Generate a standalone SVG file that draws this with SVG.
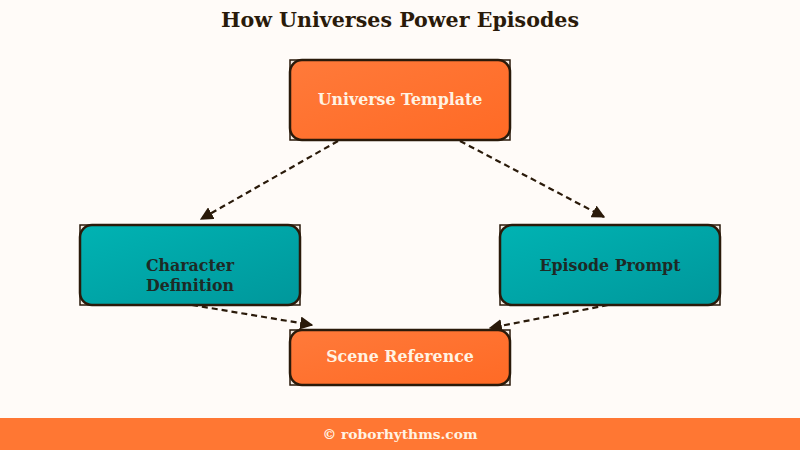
<svg xmlns="http://www.w3.org/2000/svg" width="800" height="450" viewBox="0 0 800 450">
<style>
.frame{fill:#f5ece4;stroke:#2a1a0a;stroke-width:1.5}
.box{stroke:#2a1a0a;stroke-width:2.5}
.org{fill:url(#go)}
.teal{fill:url(#gt)}
.t{font-family:"DejaVu Serif","Liberation Serif",serif;font-weight:bold;font-size:15.8px;text-anchor:middle}
.tw{fill:#fff3e3}
.td{fill:#1e2a26}
.conn{stroke:#2a1a0a;stroke-width:2.2;stroke-dasharray:6,4;fill:none}
</style>
<defs>
<linearGradient id="go" x1="0" y1="0" x2="1" y2="1"><stop offset="0" stop-color="#ff7a3a"/><stop offset="1" stop-color="#ff6a25"/></linearGradient>
<linearGradient id="gt" x1="0" y1="0" x2="1" y2="1"><stop offset="0" stop-color="#00b3b3"/><stop offset="1" stop-color="#00979b"/></linearGradient>
<marker id="ah" viewBox="0 0 10 10" refX="9" refY="5" markerWidth="6" markerHeight="6" orient="auto" markerUnits="strokeWidth"><path d="M0,0 L10,5 L0,10 z" fill="#2a1a0a"/></marker>
</defs>
<rect width="800" height="450" fill="#fffbf8"/>
<text x="400" y="27" font-family="DejaVu Serif,serif" font-weight="bold" font-size="20.6" fill="#2a1a0a" text-anchor="middle">How Universes Power Episodes</text>
<g id="connectors">
<line class="conn" x1="338" y1="141" x2="201" y2="219" marker-end="url(#ah)"/>
<line class="conn" x1="460" y1="141" x2="604" y2="217" marker-end="url(#ah)"/>
<line class="conn" x1="192" y1="305" x2="312" y2="325" marker-end="url(#ah)"/>
<line class="conn" x1="608" y1="305" x2="490" y2="328" marker-end="url(#ah)"/>
</g>
<g id="universe-template">
<rect class="frame" x="290" y="60" width="220" height="80"/>
<rect class="box org" x="290" y="60" width="220" height="80" rx="12"/>
<text class="t tw" x="400" y="105">Universe Template</text>
</g>
<g id="character-definition">
<rect class="frame" x="80" y="225" width="220" height="80"/>
<rect class="box teal" x="80" y="225" width="220" height="80" rx="12"/>
<text class="t td" x="190" y="271">Character</text>
<text class="t td" x="190" y="291">Definition</text>
</g>
<g id="episode-prompt">
<rect class="frame" x="500" y="225" width="220" height="80"/>
<rect class="box teal" x="500" y="225" width="220" height="80" rx="12"/>
<text class="t td" x="610" y="271">Episode Prompt</text>
</g>
<g id="scene-reference">
<rect class="frame" x="290" y="330" width="220" height="55"/>
<rect class="box org" x="290" y="330" width="220" height="55" rx="12"/>
<text class="t tw" x="400" y="362">Scene Reference</text>
</g>
<rect x="0" y="418" width="800" height="32" fill="#ff7733"/>
<text x="400" y="439" font-family="DejaVu Serif,serif" font-weight="bold" font-size="13.8" fill="#fff3e3" text-anchor="middle">© roborhythms.com</text>
</svg>
